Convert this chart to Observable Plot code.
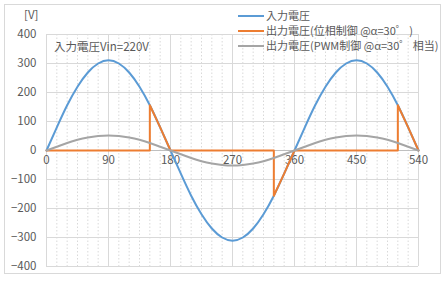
<!DOCTYPE html>
<html><head><meta charset="utf-8">
<script src="https://cdn.jsdelivr.net/npm/d3@7"></script>
<script src="https://cdn.jsdelivr.net/npm/@observablehq/plot@0.6"></script>
<style>
html,body{margin:0;padding:0;background:#fff;}
#wrap{position:relative;width:447px;height:281px;font-family:"Noto Sans CJK JP","Noto Sans",sans-serif;}
#border{position:absolute;left:4px;top:4px;width:437px;height:270px;border:1px solid #d9d9d9;box-sizing:border-box;}
#chart{position:absolute;left:0;top:0;}
.t{position:absolute;font-size:11.5px;color:#595959;white-space:nowrap;line-height:1;}
.leg{position:absolute;left:238px;font-size:11px;color:#595959;white-space:nowrap;line-height:1;}
.leg span{display:inline-block;width:26px;height:2px;vertical-align:middle;margin-right:2px;position:relative;top:-1px;}
</style></head>
<body>
<div id="wrap"><div id="border"></div><div id="chart"></div></div>
<script>
// Data
const angles = [0,15,30,45,60,75,90,105,120,135,150,165,180,195,210,225,240,255,270,285,300,315,330,345,360,375,390,405,420,435,450,465,480,495,510,525,540];
const inputV = [0,80,156,220,269,300,311,300,269,220,156,80,0,-80,-156,-220,-269,-300,-311,-300,-269,-220,-156,-80,0,80,156,220,269,300,311,300,269,220,156,80,0];
const pwmV   = [0,13,26,37,45,50,52,50,45,37,26,13,0,-13,-26,-37,-45,-50,-52,-50,-45,-37,-26,-13,0,13,26,37,45,50,52,50,45,37,26,13,0];
const phaseX = [0,150,150,165,180,330,330,345,360,510,510,525,540];
const phaseV = [0,0,156,80,0,0,-156,-80,0,0,156,80,0];
const xTicks = [0,90,180,270,360,450,540];
const yTicks = [-400,-300,-200,-100,0,100,200,300,400];
const seriesNames = ["入力電圧","出力電圧(位相制御 @α=30゜ )","出力電圧(PWM制御 @α=30゜ 相当)"];
const colors = ["#5B9BD5","#ED7D31","#A5A5A5"];

const inputData = angles.map((a,i)=>({x:a,y:inputV[i]}));
const pwmData = angles.map((a,i)=>({x:a,y:pwmV[i]}));
const phaseData = phaseX.map((a,i)=>({x:a,y:phaseV[i]}));
const minor = angles.filter(a=>a%90!==0);

const chart = Plot.plot({
  width:447, height:281,
  marginLeft:46, marginRight:29, marginTop:34, marginBottom:15,
  style:{fontFamily:'"Noto Sans CJK JP","Noto Sans",sans-serif', fontSize:"11.5px", color:"#595959", background:"transparent"},
  x:{domain:[0,540], axis:null},
  y:{domain:[-400,400]},
  marks:[
    Plot.ruleX(minor,{x:d=>d, stroke:"#d9d9d9", strokeDasharray:"1.5,2"}),
    Plot.ruleY(yTicks,{y:d=>d, stroke:"#d9d9d9"}),
    Plot.ruleX(xTicks,{x:d=>d, stroke:"#d9d9d9"}),
    Plot.ruleY([0],{stroke:"#bfbfbf"}),
    Plot.axisY(yTicks,{tickSize:0, tickPadding:10, fill:"#595959", fontSize:11.5, label:null}),
    Plot.text(xTicks,{x:d=>d, y:0, dy:10, fill:"#595959", fontSize:11.5, text:d=>String(d)}),
    Plot.line(inputData,{x:"x",y:"y",stroke:colors[0],strokeWidth:2,curve:"natural"}),
    Plot.line(phaseData,{x:"x",y:"y",stroke:colors[1],strokeWidth:2}),
    Plot.line(pwmData,{x:"x",y:"y",stroke:colors[2],strokeWidth:2,curve:"natural"})
  ]
});
document.getElementById("chart").appendChild(chart);

const wrap = document.getElementById("wrap");
function addText(txt,left,top,cls){const d=document.createElement("div");d.className=cls;d.style.left=left+"px";d.style.top=top+"px";d.textContent=txt;wrap.appendChild(d);}
addText("[V]",24,9,"t");
addText("入力電圧Vin=220V",54,41,"t");
const legTops=[10,25,40];
seriesNames.forEach((n,i)=>{
  const d=document.createElement("div");d.className="leg";d.style.top=legTops[i]+"px";
  const s=document.createElement("span");s.style.background=colors[i];
  d.appendChild(s);d.appendChild(document.createTextNode(n));wrap.appendChild(d);
});
</script>
</body></html>
